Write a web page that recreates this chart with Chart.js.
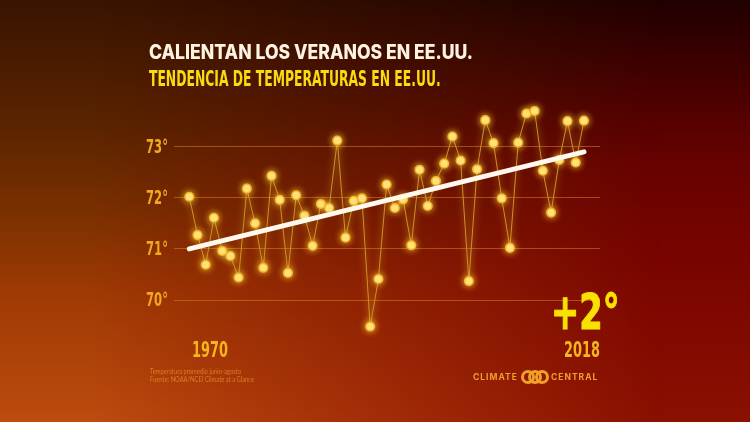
<!DOCTYPE html>
<html lang="es">
<head>
<meta charset="utf-8">
<title>Calientan los veranos en EE.UU.</title>
<script src="https://cdn.jsdelivr.net/npm/chart.js@4.4.1/dist/chart.umd.min.js"></script>
<style>
    html, body {
        margin: 0;
        padding: 0;
    }
    body {
        width: 750px;
        height: 422px;
        overflow: hidden;
        position: relative;
        background: linear-gradient(to bottom, #200000 0%, #4a0000 22%, #660200 38%, #780400 60%, #8a1000 100%);
    }
    .bg-left {
        position: absolute;
        left: 0;
        top: 0;
        width: 750px;
        height: 422px;
        background: linear-gradient(to bottom, #3a1400 0%, #5a2400 30%, #7a3000 50%, #a03a04 70%, #bc4c0e 100%);
        -webkit-mask-image: linear-gradient(to right, #000 0%, #000 12%, rgba(0, 0, 0, 0.5) 50%, transparent 88%);
        mask-image: linear-gradient(to right, #000 0%, #000 12%, rgba(0, 0, 0, 0.5) 50%, transparent 88%);
    }
    #summerChart {
        position: absolute;
        left: 0;
        top: 0;
    }
    .txt {
        position: absolute;
        white-space: nowrap;
        line-height: 1;
        transform-origin: left top;
    }
    .cond {
        font-family: 'DejaVu Sans Condensed', 'DejaVu Sans', sans-serif;
        font-weight: 700;
    }
    .title {
        left: 149px;
        top: 42px;
        font-family: Inter, 'Open Sans', sans-serif;
        font-weight: 800;
        font-size: 20px;
        color: #fdf3e0;
        transform: scaleX(0.88);
    }
    .subtitle {
        left: 149px;
        top: 69px;
        font-size: 20.5px;
        color: #f8dc10;
        transform: scaleX(0.67);
    }
    .year {
        top: 340px;
        font-size: 20.5px;
        color: #f5b51c;
        transform: scaleX(0.7);
    }
    .delta {
        left: 551px;
        top: 287px;
        font-size: 50px;
        color: #f8e000;
        transform: scaleX(0.75);
        -webkit-text-stroke: 1px #f8e000;
    }
    .note {
        left: 150px;
        top: 367px;
        font-family: Lato, 'Open Sans', sans-serif;
        font-size: 7px;
        line-height: 8px;
        color: #e8862a;
        opacity: 0.85;
        transform: scaleX(0.83);
    }
    .logo {
        left: 473px;
        top: 373px;
        font-family: Inter, 'Open Sans', sans-serif;
        font-weight: 700;
        font-size: 8.5px;
        letter-spacing: 1px;
        color: #f0a028;
    }
    .ring {
        position: absolute;
        top: 370px;
        width: 8px;
        height: 8px;
        border: 3px solid #f0a028;
        border-radius: 50%;
    }
</style>
</head>
<body>
<div class="bg-left"></div>
<canvas id="summerChart" width="750" height="422"></canvas>

<div class="txt title">CALIENTAN LOS VERANOS EN EE.UU.</div>
<div class="txt cond subtitle">TENDENCIA DE TEMPERATURAS EN EE.UU.</div>
<div class="txt cond year" style="left:192px">1970</div>
<div class="txt cond year" style="left:564px">2018</div>
<div class="txt cond delta">+2°</div>
<div class="txt note">Temperatura promedio junio-agosto<br>Fuente: NOAA/NCEI Climate at a Glance</div>
<div class="txt logo">CLIMATE</div>
<div class="ring" style="left:521px"></div>
<div class="ring" style="left:528px"></div>
<div class="ring" style="left:535px"></div>
<div class="txt logo" style="left:551px">CENTRAL</div>

<script>
// Years on the x axis
const years = [
    1970, 1971, 1972, 1973, 1974, 1975, 1976, 1977, 1978, 1979,
    1980, 1981, 1982, 1983, 1984, 1985, 1986, 1987, 1988, 1989,
    1990, 1991, 1992, 1993, 1994, 1995, 1996, 1997, 1998, 1999,
    2000, 2001, 2002, 2003, 2004, 2005, 2006, 2007, 2008, 2009,
    2010, 2011, 2012, 2013, 2014, 2015, 2016, 2017, 2018
];

// Average June-August temperature (°F)
const summerTemps = [
    72.02, 71.27, 70.69, 71.61, 70.96, 70.86, 70.44, 72.18, 71.50, 70.63,
    72.43, 71.96, 70.53, 72.05, 71.65, 71.06, 71.88, 71.80, 73.12, 71.22,
    71.94, 71.99, 69.48, 70.41, 72.26, 71.80, 71.97, 71.07, 72.55, 71.84,
    72.33, 72.67, 73.20, 72.73, 70.37, 72.56, 73.52, 73.07, 71.99, 71.02,
    73.08, 73.65, 73.70, 72.53, 71.71, 72.74, 73.50, 72.69, 73.51
];

// Trend line end points
const trendYears = [1970, 2018];
const trendTemps = [71.0, 72.9];

// Gridline / tick values
const yTicks = [70, 71, 72, 73];

// Soft yellow glow behind the points
const glowPlugin = {
    id: 'glow',
    beforeDatasetDraw(chart, args) {
        if (chart.data.datasets[args.index].glow) {
            chart.ctx.save();
            chart.ctx.shadowColor = 'rgba(255, 210, 60, 0.9)';
            chart.ctx.shadowBlur = 7;
        }
    },
    afterDatasetDraw(chart, args) {
        if (chart.data.datasets[args.index].glow) {
            chart.ctx.restore();
        }
    }
};

// Narrow tick labels (no condensed face for canvas text, so squeeze it)
const condensedTicks = {
    id: 'condensedTicks',
    afterDraw(chart) {
        const scale = chart.scales.y;
        const ctx = chart.ctx;
        const right = chart.chartArea.left - 6;
        ctx.save();
        ctx.fillStyle = '#f2a81c';
        ctx.font = "bold 19px 'DejaVu Sans Condensed', sans-serif";
        ctx.textAlign = 'right';
        ctx.textBaseline = 'middle';
        yTicks.forEach(v => {
            ctx.save();
            ctx.translate(right, scale.getPixelForValue(v) + 1);
            ctx.scale(0.68, 1);
            ctx.fillText(v + '°', 0, 0);
            ctx.restore();
        });
        ctx.restore();
    }
};

document.addEventListener('DOMContentLoaded', function() {
    initializeSummerChart();
});

function initializeSummerChart() {
    const ctx = document.getElementById('summerChart').getContext('2d');

    const tempPoints = years.map((y, i) => ({ x: y, y: summerTemps[i] }));
    const trendPoints = trendYears.map((y, i) => ({ x: y, y: trendTemps[i] }));

    new Chart(ctx, {
        type: 'line',
        data: {
            datasets: [{
                label: 'Tendencia',
                data: trendPoints,
                borderColor: '#fff8ec',
                borderWidth: 5,
                borderCapStyle: 'round',
                pointRadius: 0,
                order: 0
            }, {
                label: 'Temperatura promedio junio-agosto',
                data: tempPoints,
                glow: true,
                borderColor: '#cf9221',
                borderWidth: 1,
                tension: 0,
                pointRadius: 4.3,
                pointBackgroundColor: '#ffe68e',
                pointBorderColor: '#f5b523',
                pointBorderWidth: 1.5,
                order: 1
            }]
        },
        plugins: [glowPlugin, condensedTicks],
        options: {
            responsive: false,
            animation: false,
            layout: {
                padding: {
                    top: 95.6,
                    right: 150,
                    bottom: 70.9,
                    left: 0
                }
            },
            plugins: {
                legend: { display: false },
                tooltip: { enabled: false }
            },
            scales: {
                x: {
                    type: 'linear',
                    display: false,
                    min: 1968.14,
                    max: 2019.95
                },
                y: {
                    min: 69,
                    max: 74,
                    border: { display: false },
                    afterBuildTicks: function(scale) {
                        scale.ticks = yTicks.map(v => ({ value: v }));
                    },
                    afterFit: function(scale) {
                        scale.width = 174;
                    },
                    grid: {
                        color: 'rgba(214, 128, 40, 0.55)',
                        lineWidth: 1,
                        drawTicks: false
                    },
                    ticks: {
                        display: false
                    }
                }
            }
        }
    });
}
</script>
</body>
</html>
